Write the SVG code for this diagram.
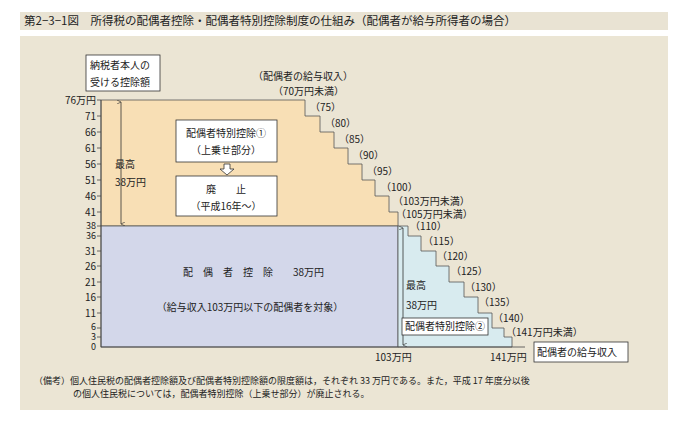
<svg xmlns="http://www.w3.org/2000/svg" width="688" height="436" viewBox="0 0 688 436">
<style>
text{font-family:"Noto Sans CJK JP","Liberation Sans",sans-serif;font-size:10px;fill:#222}
.s{font-size:9px}
.box{fill:#fff;stroke:#333;stroke-width:0.8}
.ax{stroke:#444;stroke-width:0.8;fill:none}
</style>
<defs>
<marker id="ah" markerWidth="6" markerHeight="6" refX="3" refY="5" orient="auto-start-reverse" viewBox="0 0 6 6"><path d="M0.5,0 L3,5 L5.5,0" fill="none" stroke="#333" stroke-width="0.8"/></marker>
</defs>
<rect width="688" height="436" fill="#fff"/>
<rect x="20" y="12" width="648" height="18" fill="#e9e3d3"/>
<text x="24" y="25" style="font-size:11.5px">第2−3−1図　所得税の配偶者控除・配偶者特別控除制度の仕組み（配偶者が給与所得者の場合）</text>
<rect x="20" y="36" width="648" height="374" fill="#ebe5d4"/>
<g id="areas">
<path d="M101,100 H305 V116 H320 V132 H334 V148 H348 V164 H362 V180 H375 V196 H389 V212 H398 V226 H101 Z" fill="#f8dfb5" stroke="#555" stroke-width="0.8"/>
<rect x="101" y="226" width="297" height="121" fill="#d3d7ea" stroke="#555" stroke-width="0.8"/>
<path d="M398,226 H408 V236 H421 V251 H436 V266 H449 V282 H464 V297 H478 V313 H492 V328 H504 V337 H512 V347 H398 Z" fill="#d8ebef" stroke="#555" stroke-width="0.8"/>
</g>
<g id="axis" class="ax">
<path d="M101,100 V347 H525"/>
<path d="M97,100H101M97,116H101M97,132H101M97,148H101M97,164H101M97,180H101M97,196H101M97,212H101M97,226H101M97,236H101M97,251H101M97,266H101M97,282H101M97,297H101M97,313H101M97,328H101M97,337H101"/>
</g>
<g id="ylabels" text-anchor="end">
<text x="96" y="104">76万円</text><text x="96" y="120">71</text><text x="96" y="136">66</text><text x="96" y="152">61</text><text x="96" y="168">56</text><text x="96" y="184">51</text><text x="96" y="200">46</text><text x="96" y="216">41</text><text class="s" x="96" y="229">38</text><text class="s" x="96" y="239">36</text><text x="96" y="255">31</text><text x="96" y="270">26</text><text x="96" y="286">21</text><text x="96" y="301">16</text><text x="96" y="317">11</text><text class="s" x="96" y="330">6</text><text class="s" x="96" y="340">3</text><text class="s" x="96" y="350">0</text>
</g>
<g id="steplabels">
<text x="253" y="80">（配偶者の給与収入）</text>
<text x="273" y="95">（70万円未満）</text>
<text x="310" y="111">（75）</text><text x="325" y="127">（80）</text><text x="339" y="143">（85）</text><text x="353" y="159">（90）</text><text x="367" y="175">（95）</text><text x="381" y="191">（100）</text><text x="393" y="205">（103万円未満）</text><text x="396" y="218">（105万円未満）</text>
<text x="410" y="230">（110）</text><text x="423" y="245">（115）</text><text x="437" y="260">（120）</text><text x="451" y="275">（125）</text><text x="465" y="291">（130）</text><text x="479" y="306">（135）</text><text x="493" y="322">（140）</text><text x="506" y="336">（141万円未満）</text>
</g>
<g id="n-taxpayer"><rect class="box" x="86" y="55" width="74" height="36"/><text x="90" y="69">納税者本人の</text><text x="90" y="86">受ける控除額</text></g>
<g id="connectors">
<line x1="121" y1="102" x2="121" y2="224" stroke="#333" stroke-width="0.8" marker-start="url(#ah)" marker-end="url(#ah)"/>
<line x1="403" y1="228" x2="403" y2="345" stroke="#333" stroke-width="0.8" marker-start="url(#ah)" marker-end="url(#ah)"/>
<path d="M224,164 H230 V169 H234 L227,175 L220,169 H224 Z" fill="#fff" stroke="#333" stroke-width="0.8"/>
</g>
<g id="n-max1"><text x="115" y="168">最高</text><text x="115" y="186">38万円</text></g>
<g id="n-special1"><rect class="box" x="176" y="120" width="101" height="42"/><text x="226" y="137" text-anchor="middle">配偶者特別控除①</text><text x="226" y="154" text-anchor="middle">（上乗せ部分）</text></g>
<g id="n-abolish"><rect class="box" x="176" y="176" width="101" height="40"/><text x="226" y="193" text-anchor="middle">廃　　止</text><text x="226" y="210" text-anchor="middle">（平成16年〜）</text></g>
<g id="n-spouse"><text x="183" y="276">配　偶　者　控　除　　38万円</text><text x="250" y="311" text-anchor="middle">（給与収入103万円以下の配偶者を対象）</text></g>
<g id="n-max2"><text x="406" y="289">最高</text><text x="406" y="309">38万円</text></g>
<g id="n-special2"><rect class="box" x="402" y="318" width="86" height="17"/><text x="405" y="330">配偶者特別控除②</text></g>
<g id="xlabels"><text x="375" y="361">103万円</text><text x="490" y="361">141万円</text></g>
<g id="n-income"><rect class="box" x="534" y="342" width="94" height="20"/><text x="537" y="356">配偶者の給与収入</text></g>
<text x="34" y="384" style="font-size:9px">（備考）個人住民税の配偶者控除額及び配偶者特別控除額の限度額は，それぞれ 33 万円である。また，平成 17 年度分以後</text>
<text x="73" y="397" style="font-size:9px">の個人住民税については，配偶者特別控除（上乗せ部分）が廃止される。</text>
</svg>
